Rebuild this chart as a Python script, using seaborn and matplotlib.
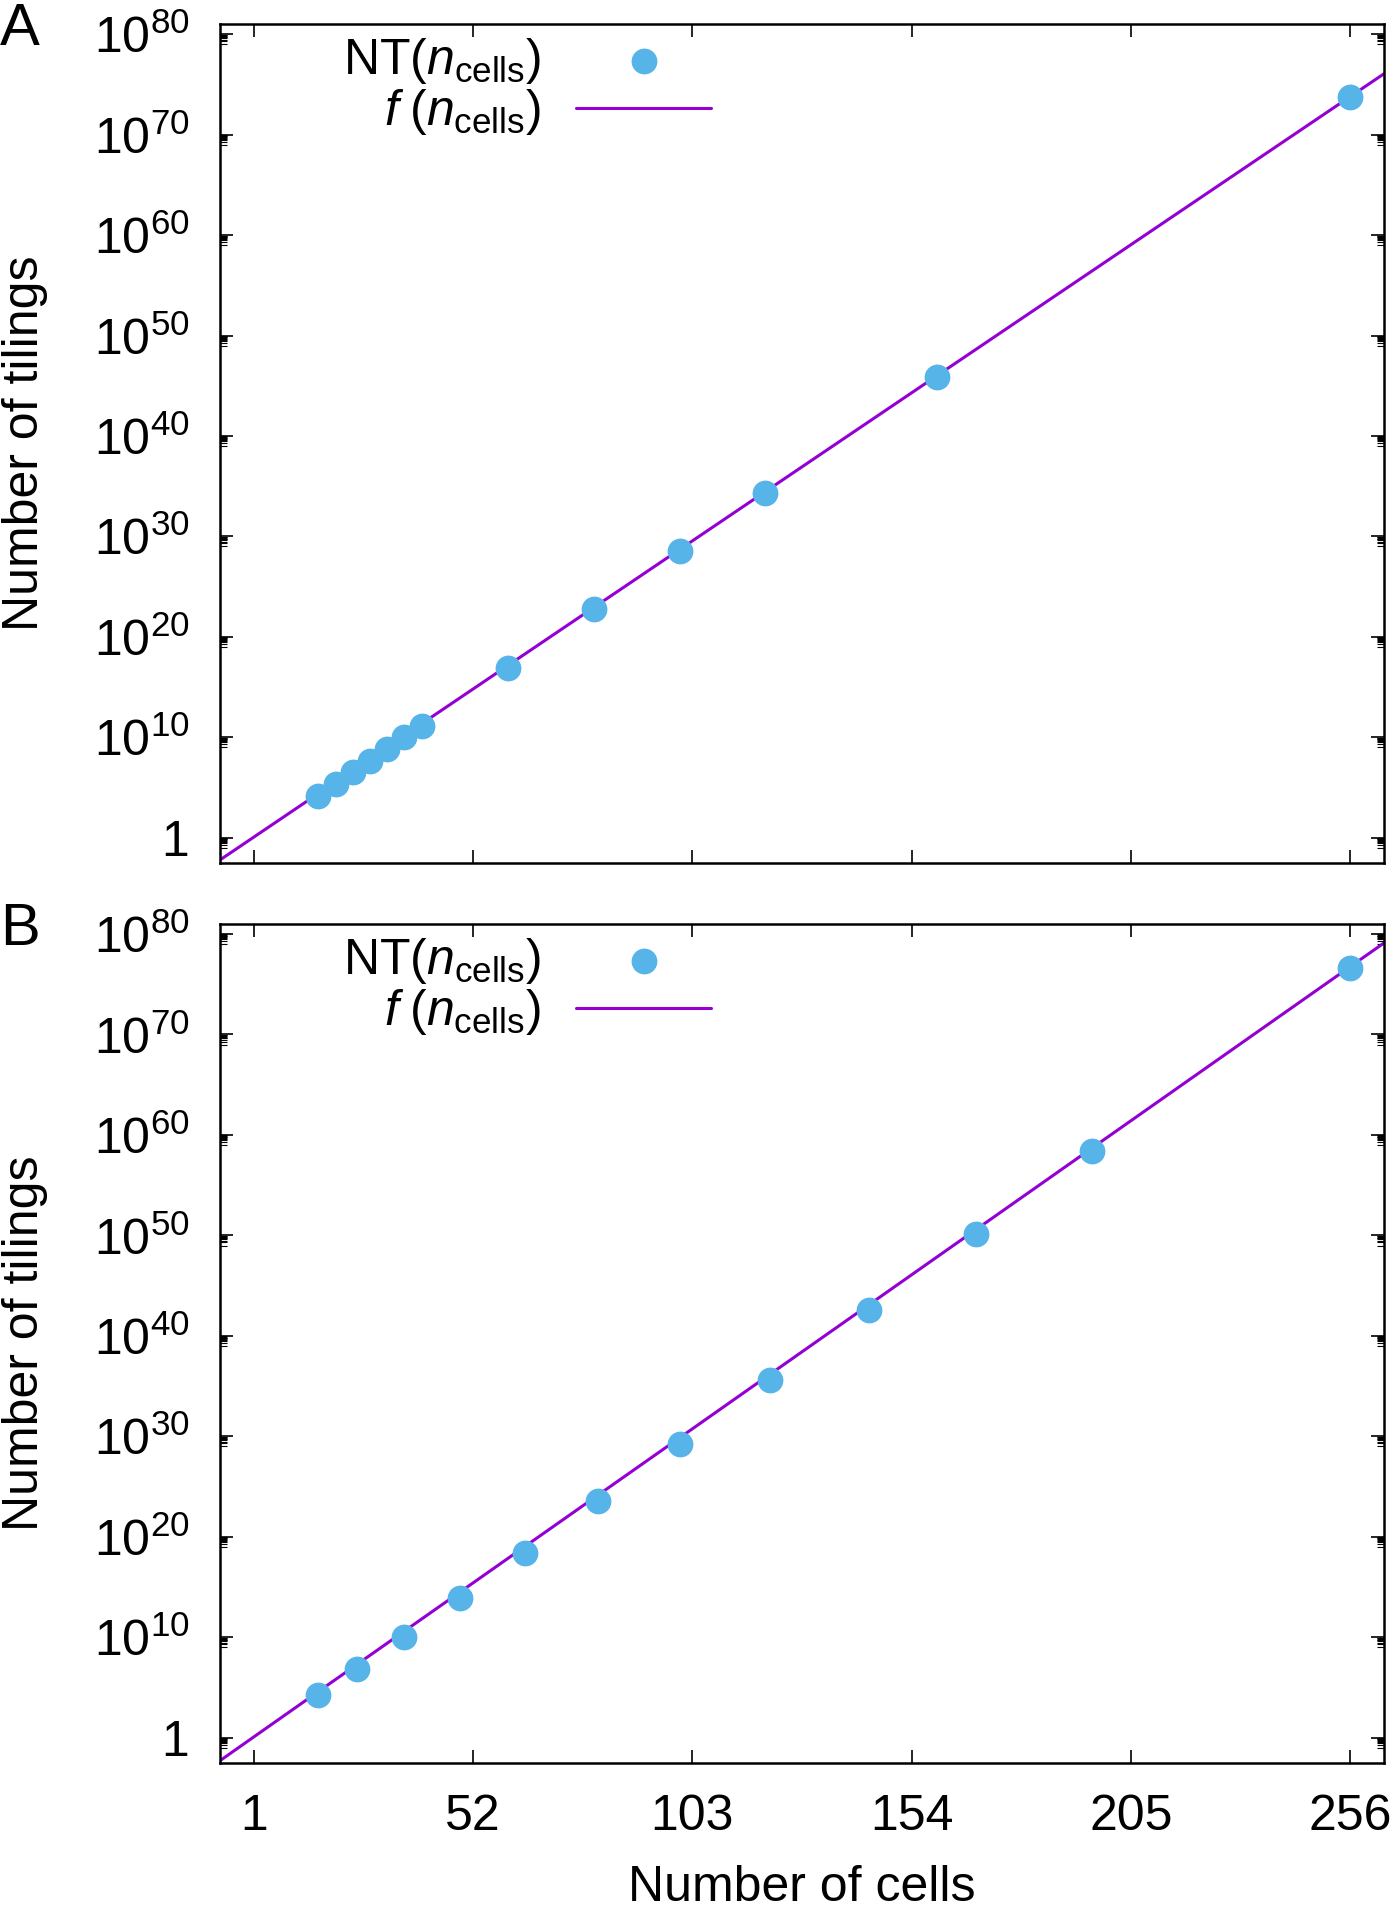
import numpy as np
import pandas as pd
import matplotlib
matplotlib.use('Agg')
import matplotlib.pyplot as plt
from matplotlib.ticker import FixedLocator, NullFormatter
import seaborn as sns

# broj celija i log10 broja poplocavanja (ocitano sa slike)
n_cells_a = [16, 20, 24, 28, 32, 36, 40, 60, 80, 100, 120, 160, 256]
log_nt_a = [4.18, 5.35, 6.51, 7.67, 8.83, 10.0, 11.16, 16.93, 22.75, 28.56, 34.33, 45.9, 73.73]
n_cells_b = [16, 25, 36, 49, 64, 81, 100, 121, 144, 169, 196, 256]
log_nt_b = [4.22, 6.81, 10.06, 13.94, 18.43, 23.55, 29.25, 35.6, 42.57, 50.17, 58.37, 76.63]

# fit: log10 f(n) = c0 + c1*n
fit_a = (-0.225, 0.2891)
fit_b = (-0.19, 0.3005)

x_ticks = [1, 52, 103, 154, 205, 256]
y_exps = [0, 10, 20, 30, 40, 50, 60, 70, 80]
x_lim = (-6.9, 263.9)
y_lim = (10 ** -2.52, 10 ** 81.04)

point_color = '#56B4E9'
line_color = '#9400D3'
fs = 36

sns.set_style('ticks')
plt.rcParams['font.family'] = ['Liberation Sans', 'DejaVu Sans']
plt.rcParams['mathtext.fontset'] = 'custom'
plt.rcParams['mathtext.rm'] = 'Liberation Sans'
plt.rcParams['mathtext.it'] = 'Liberation Sans:italic'
plt.rcParams['mathtext.bf'] = 'Liberation Sans:bold'
for k in ['text.color', 'axes.labelcolor', 'xtick.color', 'ytick.color', 'axes.edgecolor']:
    plt.rcParams[k] = 'black'

fig = plt.figure(figsize=(13.98, 19.07), dpi=100)
ax_a = fig.add_axes([0.1574, 0.5475, 0.8326, 0.44])
ax_b = fig.add_axes([0.1574, 0.0754, 0.8326, 0.4403])

lab_nt = r'NT$(\mathit{n}_{\mathrm{cells}})$'
lab_f = r'$\mathit{f}\;(\mathit{n}_{\mathrm{cells}})$'


def panel(ax, n, lognt, fit, show_xlabels):
    df = pd.DataFrame({'n': n, 'nt': 10.0 ** np.array(lognt)})
    xf = np.linspace(x_lim[0], x_lim[1], 50)
    df_fit = pd.DataFrame({'n': xf, 'f': 10.0 ** (fit[0] + fit[1] * xf)})

    sns.scatterplot(data=df, x='n', y='nt', ax=ax, s=345, color=point_color,
                    linewidth=0, label=lab_nt, zorder=3)
    sns.lineplot(data=df_fit, x='n', y='f', ax=ax, color=line_color,
                 linewidth=2.2, label=lab_f, zorder=2)

    ax.set_yscale('log')
    ax.set_xlim(*x_lim)
    ax.set_ylim(*y_lim)

    ax.xaxis.set_major_locator(FixedLocator(x_ticks))
    ax.set_xticklabels([str(t) for t in x_ticks] if show_xlabels else [])
    ax.yaxis.set_major_locator(FixedLocator([10.0 ** e for e in y_exps]))
    ax.set_yticklabels(['1' if e == 0 else r'$10^{%d}$' % e for e in y_exps])
    minor = [m * 10.0 ** (e - 1) for e in y_exps for m in range(1, 10)]
    ax.yaxis.set_minor_locator(FixedLocator(minor))
    ax.yaxis.set_minor_formatter(NullFormatter())
    ax.xaxis.set_minor_locator(FixedLocator([]))

    ax.tick_params(which='both', direction='in', top=True, right=True,
                   labelsize=fs, color='black', labelcolor='black')
    ax.tick_params(which='major', length=9.5, width=1.2)
    ax.tick_params(which='minor', length=5, width=0.8)
    ax.tick_params(axis='y', pad=22)
    ax.tick_params(axis='x', pad=22)
    for sp in ax.spines.values():
        sp.set_linewidth(1.8)
        sp.set_color('black')

    ax.set_xlabel('Number of cells' if show_xlabels else '', fontsize=fs)
    ax.set_ylabel('Number of tilings', fontsize=fs)
    ax.yaxis.set_label_coords(-0.148, 0.5)
    ax.xaxis.set_label_coords(0.5, -0.121)

    handles, labels = ax.get_legend_handles_labels()
    order = [labels.index(lab_nt), labels.index(lab_f)]
    ax.legend([handles[i] for i in order], [labels[i] for i in order],
              loc='upper right', bbox_to_anchor=(0.422, 0.985), frameon=False,
              markerfirst=False, fontsize=fs, handlelength=2.7,
              handletextpad=0.7, borderpad=0, borderaxespad=0, labelspacing=0.02)


panel(ax_a, n_cells_a, log_nt_a, fit_a, False)
panel(ax_b, n_cells_b, log_nt_b, fit_b, True)

fig.text(0.0, 1 - 45 / 1907, 'A', fontsize=43, va='baseline', ha='left')
fig.text(0.0, 1 - 945 / 1907, 'B', fontsize=43, va='baseline', ha='left')

fig.savefig('out.png', dpi=100)
